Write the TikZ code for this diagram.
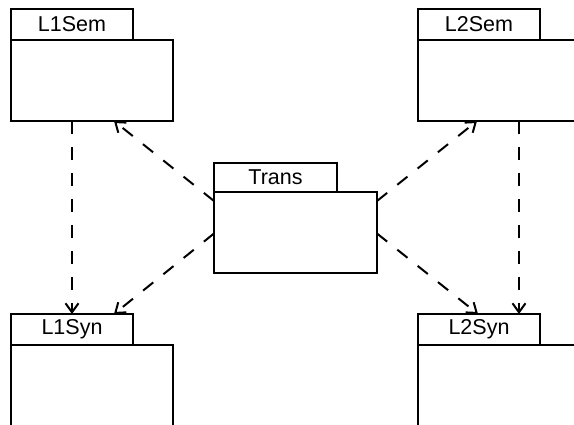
\documentclass[tikz,border=0pt]{standalone}
\usepackage{fontspec}
\setmainfont{Liberation Sans}
\usetikzlibrary{arrows.meta}
\begin{document}
\begin{tikzpicture}[x=1pt,y=-1pt,
  tabbox/.style={draw,line width=2pt,anchor=north west,outer sep=0pt,inner sep=0pt,
     minimum width=122pt,minimum height=31pt,font=\fontsize{21.5}{23}\selectfont},
  bodybox/.style={draw,line width=2pt,anchor=north west,outer sep=0pt,inner sep=0pt,
     minimum width=162pt,minimum height=81pt},
  dep/.style={line width=2pt,dash pattern=on 13pt off 13pt,
     -{Straight Barb[length=9pt,width=13pt,line width=2pt]}}]
\useasboundingbox (0,0) rectangle (574,425);
\clip (0,0) rectangle (574,425);
% L1Sem
\node[bodybox] (L1Sem) at (11,40) {};
\node[tabbox] (L1Semtab) at (11,9) {L1Sem};
% L2Sem
\node[bodybox] (L2Sem) at (418,40) {};
\node[tabbox] (L2Semtab) at (418,9) {L2Sem};
% Trans
\node[bodybox,minimum width=163pt] (Trans) at (214,192) {};
\node[tabbox,minimum width=123pt,minimum height=29pt] (Transtab) at (214,163) {Trans};
% L1Syn
\node[bodybox,minimum height=120pt] (L1Syn) at (11,345) {};
\node[tabbox] (L1Syntab) at (11,314) {L1Syn};
% L2Syn
\node[bodybox,minimum height=120pt] (L2Syn) at (418,345) {};
\node[tabbox] (L2Syntab) at (418,314) {L2Syn};
% connectors
\draw[dep] (L1Semtab.center |- L1Sem.south) -- (L1Syntab.north);
\draw[dep] ([xshift=101pt]L2Sem.south west) -- ([xshift=101pt]L2Syntab.north west);
\draw[dep] ([yshift=-9pt]Trans.north west) -- ([xshift=103pt]L1Sem.south west);
\draw[dep] ([yshift=-1pt]Trans.west) -- ([xshift=103pt]L1Syntab.north west);
\draw[dep] ([yshift=-9pt]Trans.north east) -- ([xshift=59pt]L2Sem.south west);
\draw[dep] ([yshift=-1pt]Trans.east) -- ([xshift=60pt]L2Syntab.north west);
\end{tikzpicture}
\end{document}
